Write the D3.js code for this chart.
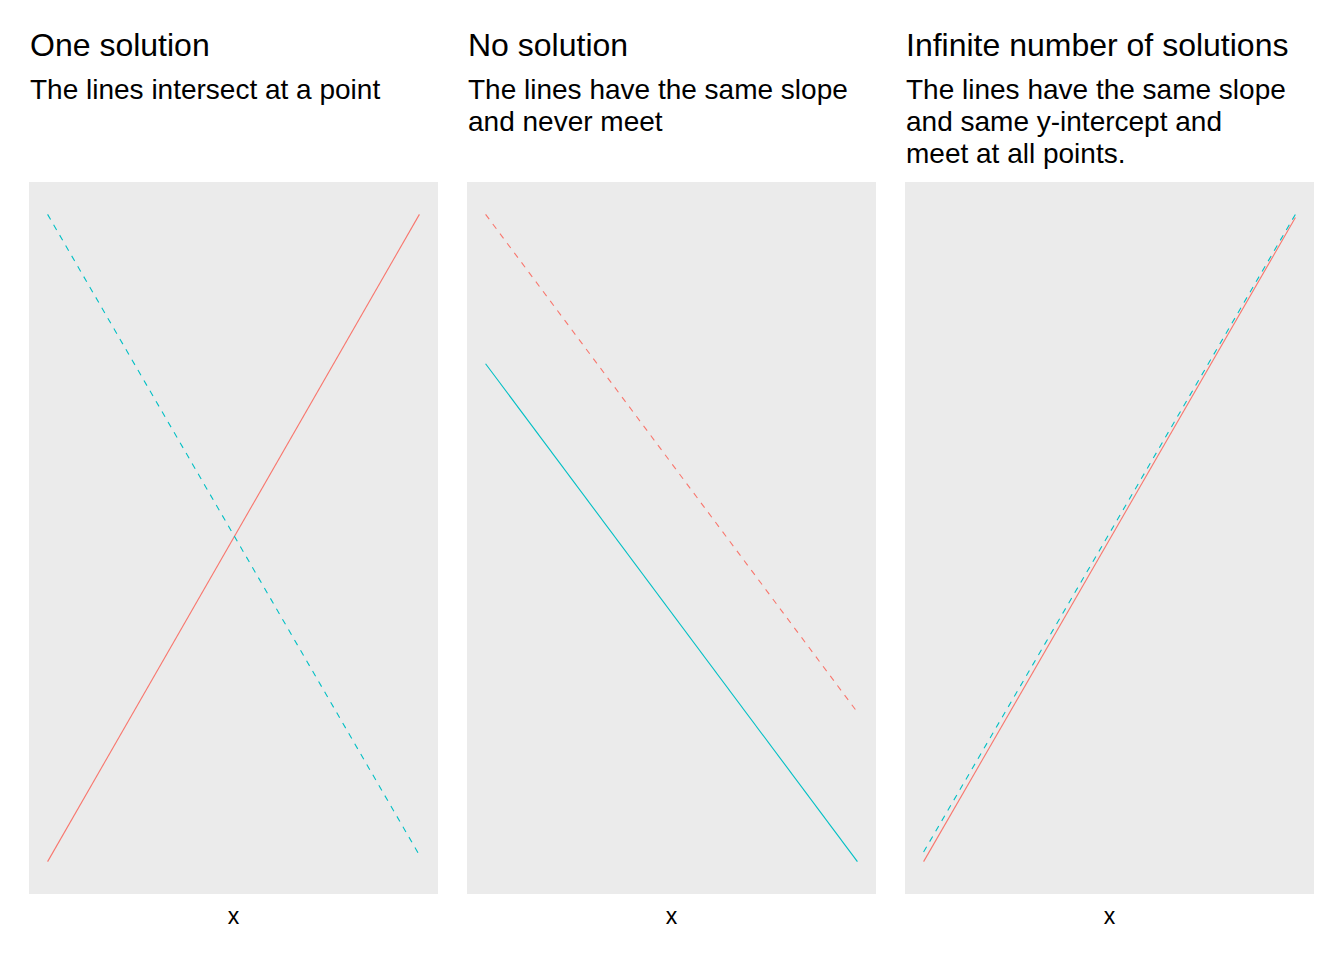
<!DOCTYPE html>
<html>
<head>
<script src="https://d3js.org/d3.v7.min.js"></script>
<style>body{margin:0;background:#fff;} text{font-family:"Liberation Sans",Arial,sans-serif;}</style>
</head>
<body>
<svg id="chart" width="1344" height="960"></svg>
<script>
var titles = ["One solution", "No solution", "Infinite number of solutions"];
var subtitles = [
    ["The lines intersect at a point"],
    ["The lines have the same slope", "and never meet"],
    ["The lines have the same slope", "and same y-intercept and", "meet at all points."]
];
var xs = [0, 10];
// [red, teal] per panel, y at x=0 and x=10
var redY = [[0, 10], [13, 3], [0, 10]];
var tealY = [[10, 0.1], [10, 0], [0.15, 10.05]];
var redDash = [false, true, false];
var tealDash = [true, false, true];

var svg = d3.select('#chart');
var panelLeft = [29, 467, 905], panelW = 409, panelTop = 182, panelBottom = 894;

titles.forEach(function(t, i) {
    var g = svg.append('g');
    var x0 = panelLeft[i];
    g.append('text').attr('x', x0 + 1).attr('y', 56).attr('font-size', 32).text(t);
    subtitles[i].forEach(function(s, j) {
        g.append('text').attr('x', x0 + 1).attr('y', 99 + j * 32).attr('font-size', 28).text(s);
    });
    g.append('rect').attr('x', x0).attr('y', panelTop).attr('width', panelW).attr('height', panelBottom - panelTop).attr('fill', '#ebebeb');

    var allY = redY[i].concat(tealY[i]);
    var ext = d3.extent(allY), pad = (ext[1] - ext[0]) * 0.05;
    var x = d3.scaleLinear().domain([xs[0] - 0.5, xs[1] + 0.5]).range([x0, x0 + panelW]);
    var y = d3.scaleLinear().domain([ext[0] - pad, ext[1] + pad]).range([panelBottom, panelTop]);
    var line = d3.line().x(function(d) { return x(d[0]); }).y(function(d) { return y(d[1]); });

    [[redY[i], '#F8766D', redDash[i]], [tealY[i], '#00BFC4', tealDash[i]]].forEach(function(s) {
        g.append('path')
            .attr('d', line(xs.map(function(v, k) { return [v, s[0][k]]; })))
            .attr('fill', 'none').attr('stroke', s[1]).attr('stroke-width', 1.1)
            .attr('stroke-dasharray', s[2] ? '6,6' : null);
    });
    g.append('text').attr('x', x0 + panelW / 2).attr('y', 924).attr('text-anchor', 'middle').attr('font-size', 23).text('x');
});
</script>
</body>
</html>
